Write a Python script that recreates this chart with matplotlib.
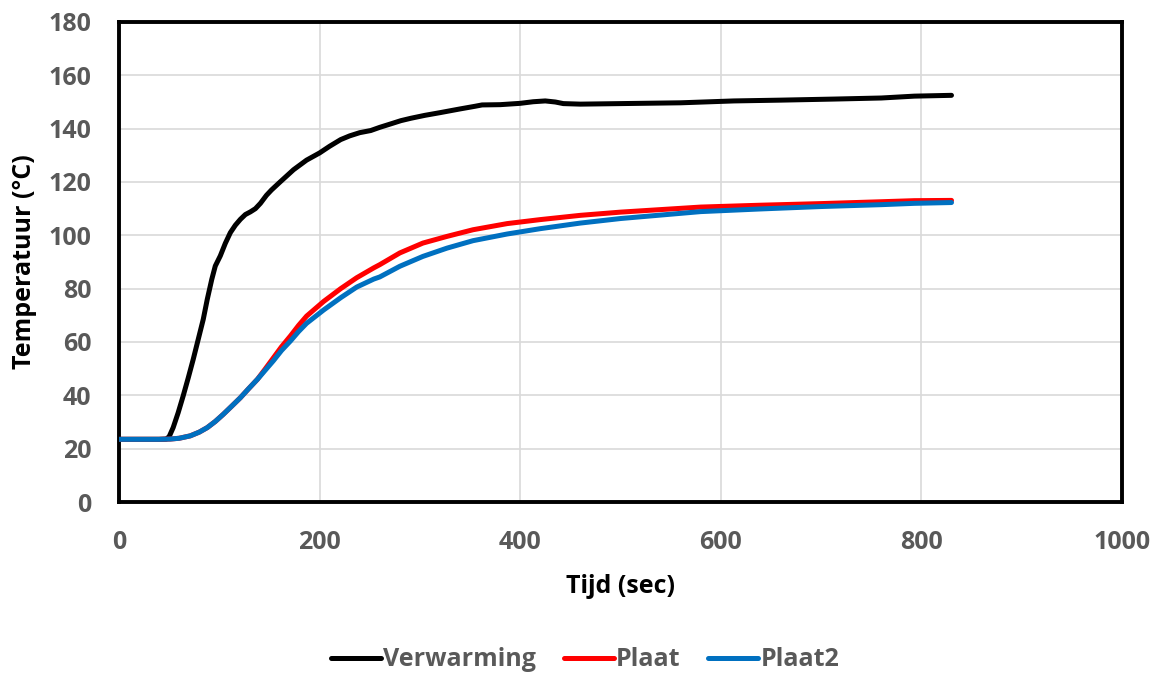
import matplotlib
matplotlib.use("Agg")
import matplotlib.pyplot as plt
from matplotlib.lines import Line2D

# --- data ---
t_verw = [0, 20, 40, 47, 50, 54, 59, 64, 69, 74, 79, 84, 88, 92.5, 96, 101, 106, 111, 116, 121,
          126, 131, 136, 141, 147, 152, 160, 174, 187, 200, 210, 221, 230, 240, 251, 260, 271,
          281, 291, 305, 320, 340, 355, 362, 380, 400, 413, 425, 435, 443, 460, 500, 560, 613,
          660, 713, 760, 793, 830]
verwarming = [23.5, 23.5, 23.5, 23.6, 24.5, 27.9, 33.5, 39.8, 46.5, 53.5, 61.0, 68.5, 76.0,
              83.5, 88.5, 92.3, 97.0, 101.0, 103.8, 106.0, 107.8, 108.8, 110.0, 112.0, 115.0,
              117.0, 119.8, 124.6, 128.2, 130.9, 133.4, 135.9, 137.3, 138.5, 139.3, 140.5,
              141.8, 143.0, 143.9, 145.0, 146.0, 147.4, 148.4, 148.9, 149.0, 149.5, 150.1,
              150.4, 150.0, 149.4, 149.2, 149.4, 149.7, 150.4, 150.7, 151.1, 151.5, 152.2, 152.5]

t_plaat = [0, 20, 40, 51, 60, 71, 80, 88, 96, 104, 112, 121, 129, 138, 146, 154, 162, 171, 179,
           187, 204, 221, 237, 254, 260, 280, 303, 327, 353, 387, 420, 460, 500, 580, 640, 700,
           760, 793, 830]
plaat = [23.5, 23.5, 23.5, 23.6, 23.9, 24.8, 26.2, 27.9, 30.2, 32.9, 35.8, 39.1, 42.4, 46.0,
         50.0, 54.1, 58.2, 62.3, 66.2, 69.7, 75.2, 80.0, 84.1, 87.8, 89.0, 93.4, 97.1, 99.6,
         102.1, 104.4, 105.9, 107.5, 108.7, 110.6, 111.3, 111.9, 112.6, 113.0, 113.1]
plaat2 = [23.5, 23.5, 23.5, 23.6, 23.9, 24.8, 26.2, 27.9, 30.2, 32.9, 35.8, 39.1, 42.4, 46.0,
          49.5, 53.0, 56.8, 60.4, 63.9, 67.0, 72.0, 76.6, 80.6, 83.6, 84.4, 88.4, 92.1, 95.2,
          98.0, 100.5, 102.5, 104.6, 106.3, 108.9, 109.9, 110.8, 111.5, 112.0, 112.3]

x_ticks = [0, 200, 400, 600, 800, 1000]
y_ticks = [0, 20, 40, 60, 80, 100, 120, 140, 160, 180]
series_names = ["Verwarming", "Plaat", "Plaat2"]
series_colors = ["#000000", "#FF0000", "#0070C0"]

plt.rcParams['font.family'] = ['Open Sans', 'DejaVu Sans']
plt.rcParams['font.weight'] = 'bold'

fig = plt.figure(figsize=(11.61, 6.74), dpi=100)
ax = fig.add_axes([119/1161, 1 - 502/674, (1122-119)/1161, (502-22)/674])

lw = 3.6
kw = dict(lw=lw, solid_capstyle='round', solid_joinstyle='round')
ax.plot(t_verw, verwarming, color=series_colors[0], zorder=3, **kw)
ax.plot(t_plaat, plaat, color=series_colors[1], zorder=4, **kw)
ax.plot(t_plaat, plaat2, color=series_colors[2], zorder=5, **kw)

ax.set_xlim(0, 1000)
ax.set_ylim(0, 180)
ax.set_xticks(x_ticks)
ax.set_yticks(y_ticks)
ax.grid(True, color='#D9D9D9', lw=1.2, zorder=0)
ax.set_axisbelow(True)
ax.tick_params(length=0, labelsize=18, labelcolor='#595959', pad=20)
for lab in ax.get_xticklabels() + ax.get_yticklabels():
    lab.set_fontweight('bold')
for s in ax.spines.values():
    s.set_color('black')
    s.set_linewidth(2.8)

ax.set_xlabel("Tijd (sec)", fontsize=18, fontweight='bold', color='black', labelpad=14)
ax.set_ylabel("Temperatuur (°C)", fontsize=18, fontweight='bold', color='black', labelpad=8)

handles = [Line2D([0], [0], color=c, lw=lw, solid_capstyle='round') for c in series_colors]
leg = fig.legend(handles, series_names, loc='center', bbox_to_anchor=(585/1161, 1 - 660/674),
                 ncol=3, frameon=False, fontsize=18, handlelength=2.0, handletextpad=0.1,
                 columnspacing=1.1)
for txt in leg.get_texts():
    txt.set_color('#595959')
    txt.set_fontweight('bold')

fig.savefig("out.png", dpi=100)
